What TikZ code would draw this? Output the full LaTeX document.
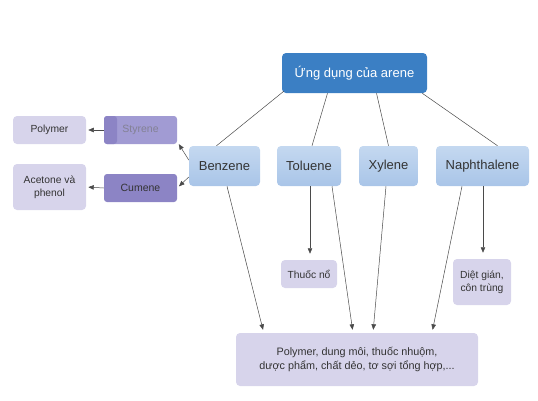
\documentclass[tikz,border=0pt]{standalone}
\usepackage{fontspec}
\setmainfont{Liberation Sans}
\usepackage{tikz}
\usetikzlibrary{arrows.meta, calc}
\definecolor{topblue}{HTML}{3B7FC4}
\definecolor{lightblueT}{HTML}{C4D8F0}
\definecolor{lightblueB}{HTML}{A9C5E8}
\definecolor{purpleDark}{HTML}{8C84C5}
\definecolor{purpleWash}{HTML}{A19BD3}
\definecolor{lavender}{HTML}{D7D4EB}
\definecolor{linegray}{HTML}{4A4A4A}
\definecolor{textgray}{HTML}{333333}
\tikzset{%
  every path/.style={line width=0.5pt},
    edge/.style={%
        draw=linegray,
        -{Triangle[length=5.5pt,width=4.5pt]},
        shorten >=3pt,
    },
    link/.style={%
        draw=linegray,
    },
    root/.style={%
        rectangle,
        fill=topblue,
        rounded corners=4pt,
        minimum width=145pt,
        minimum height=40pt,
        text=white,
        font=\fontsize{13}{15}\selectfont,
        text centered,
    },
    arene/.style={%
        rectangle,
        top color=lightblueT,
        bottom color=lightblueB,
        rounded corners=4pt,
        minimum height=40pt,
        text=textgray,
        font=\fontsize{13}{15}\selectfont,
        text centered,
    },
    derived/.style={%
        rectangle,
        fill=purpleDark,
        rounded corners=3pt,
        minimum width=73pt,
        minimum height=28pt,
        text=textgray,
        font=\fontsize{10.5}{12.5}\selectfont,
        text centered,
    },
    use/.style={%
        rectangle,
        fill=lavender,
        rounded corners=4pt,
        text=textgray,
        font=\fontsize{10.3}{13}\selectfont,
        align=center,
    },
}
\begin{document}
\begin{tikzpicture}[x=1pt, y=-1pt]
	\useasboundingbox (0,0) rectangle (538,400);

	\node [root] at (354.5, 73) (arene) {Ứng dụng của arene};

	\node [arene, minimum width=71pt] at (224.5, 166) (benzene) {Benzene};
	\node [arene, minimum width=64pt] at (309, 166) (toluene) {Toluene};
	\node [arene, minimum width=59pt] at (388.5, 166) (xylene) {Xylene};
	\node [arene, minimum width=93pt] at (482.5, 166) (naphthalene) {Naphthalene};

	\node [derived, fill=purpleWash, text=gray!70!purpleDark,
	       path picture={\fill[purpleDark] (path picture bounding box.north west)
	         rectangle ($(path picture bounding box.south west) + (13, 0)$);}]
	       at (140.5, 130) (styrene) {Styrene};
	\node [derived] at (140.5, 188) (cumene) {Cumene};

	\node [use, minimum width=73pt, minimum height=28pt] at (49.5, 130) (polymer) {Polymer};
	\node [use, minimum width=73pt, minimum height=46pt] at (49.5, 187) (acetone) {Acetone và\\phenol};
	\node [use, minimum width=56pt, minimum height=28pt] at (309, 274) (explosive) {Thuốc nổ};
	\node [use, minimum width=58pt, minimum height=46pt] at (482, 282) (insect) {Diệt gián,\\côn trùng};
	\node [use, minimum width=242pt, minimum height=53pt, font=\fontsize{10.8}{14}\selectfont]
	       at (357, 359.5) (products) {Polymer, dung môi, thuốc nhuộm,\\dược phẩm, chất dẻo, tơ sợi tổng hợp,...};

	\draw[link] ($(arene.south west) + (2, -2)$) -- ($(benzene.north) + (-8, 0)$);
	\draw[link] ($(arene.south) + (-27, 0)$) -- ($(toluene.north) + (3, 0)$);
	\draw[link] ($(arene.south) + (22, 0)$) -- (xylene.north);
	\draw[link] ($(arene.south east) + (-5, 0)$) -- ($(naphthalene.north) + (15, 0)$);

	\draw[edge, shorten >=1pt] ($(benzene.west) + (0, -6)$) -- ($(styrene.south east) + (1, -1)$);
	\draw[edge, shorten >=1pt] ($(benzene.west) + (0, 11)$) -- ($(cumene.east) + (1, -1)$);
	\draw[edge, shorten >=2pt] (styrene.west) -- (polymer.east);
	\draw[edge, shorten >=2pt] (cumene.west) -- (acetone.east);

	\draw[edge] ($(benzene.south) + (2.5, 0)$) -- ($(products.north west) + (28, 0)$);
	\draw[edge, shorten >=6pt] ($(toluene.south) + (1, 0)$) -- ($(explosive.north) + (1, 0)$);
	\draw[edge] ($(toluene.south) + (23, 0)$) -- ($(products.north) + (-4, 0)$);
	\draw[edge] ($(xylene.south) + (-2.5, 0)$) -- ($(products.north) + (16, 0)$);
	\draw[edge] ($(naphthalene.south) + (-20.5, 0)$) -- ($(products.north) + (75, 0)$);
	\draw[edge, shorten >=6pt] ($(naphthalene.south) + (0.5, 0)$) -- ($(insect.north) + (1, 0)$);
\end{tikzpicture}
\end{document}
